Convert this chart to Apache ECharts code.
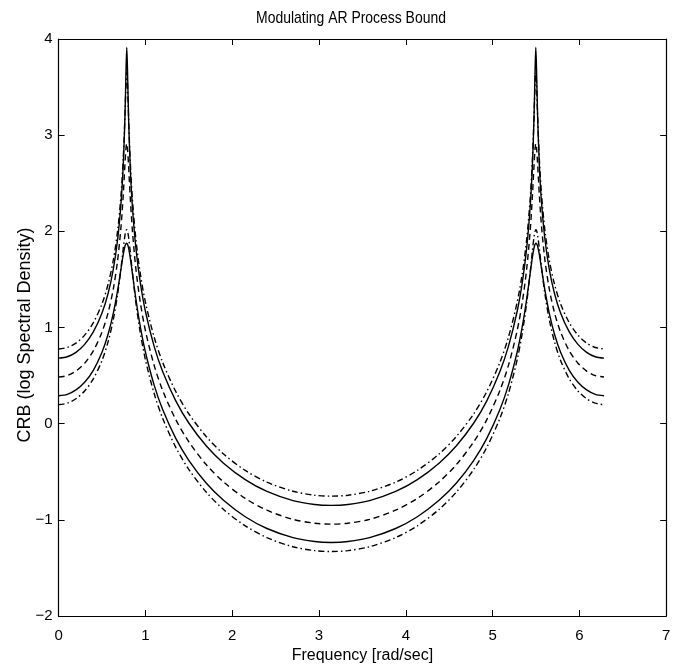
<!DOCTYPE html>
<html>
<head>
<meta charset="utf-8">
<script src="https://cdn.jsdelivr.net/npm/echarts@6/dist/echarts.min.js"></script>
<style>html,body{margin:0;padding:0;background:#fff}#c{width:684px;height:669px}</style>
</head>
<body>
<div id="c"></div>
<script>
// Frequency samples (rad/sec)
const freq = [0,0.1,0.2,0.3,0.4,0.5,0.57,0.63,0.68,0.72,0.745,0.765,0.777,0.7854,0.794,0.806,0.825,0.85,0.89,0.94,1.0,1.1,1.2,1.35,1.5,1.7,1.9,2.15,2.4,2.7,2.95,3.1416,
  3.3332,3.5832,3.8832,4.1332,4.3832,4.5832,4.7832,4.9332,5.0832,5.1832,5.2832,5.3432,5.3932,5.4332,5.4582,5.4772,5.4892,5.4978,5.5062,5.5182,5.5382,5.5632,5.6032,5.6532,5.7132,5.7832,5.8832,5.9832,6.0832,6.1832,6.2832];

// Upper dash-dot bound
const upperDashDot = [0.777,0.792,0.838,0.921,1.050,1.246,1.450,1.699,2.006,2.388,2.760,3.212,3.540,3.653,3.528,3.188,2.741,2.341,1.921,1.568,1.264,0.902,0.635,0.334,0.103,-0.133,-0.315,-0.486,-0.608,-0.703,-0.744,-0.754,
  -0.744,-0.703,-0.608,-0.486,-0.315,-0.133,0.103,0.334,0.635,0.902,1.264,1.568,1.921,2.341,2.741,3.188,3.528,3.653,3.540,3.212,2.760,2.388,2.006,1.699,1.450,1.246,1.050,0.921,0.838,0.792,0.777];

// Upper solid bound
const upperSolid = [0.681,0.696,0.742,0.825,0.954,1.151,1.354,1.605,1.915,2.304,2.695,3.211,3.685,3.911,3.669,3.186,2.676,2.258,1.830,1.474,1.169,0.806,0.539,0.237,0.007,-0.230,-0.411,-0.582,-0.705,-0.800,-0.841,-0.850,
  -0.841,-0.800,-0.705,-0.582,-0.411,-0.230,0.007,0.237,0.539,0.806,1.169,1.474,1.830,2.258,2.676,3.186,3.669,3.911,3.685,3.211,2.695,2.304,1.915,1.605,1.354,1.151,0.954,0.825,0.742,0.696,0.681];

// Log spectral density (dashed)
const spectrum = [0.486,0.500,0.547,0.629,0.757,0.953,1.154,1.400,1.699,2.059,2.382,2.706,2.872,2.914,2.863,2.684,2.360,2.011,1.614,1.270,0.969,0.609,0.343,0.042,-0.188,-0.425,-0.606,-0.777,-0.900,-0.995,-1.035,-1.045,
  -1.035,-0.995,-0.900,-0.777,-0.606,-0.425,-0.188,0.042,0.343,0.609,0.969,1.270,1.614,2.011,2.360,2.684,2.863,2.914,2.872,2.706,2.382,2.059,1.699,1.400,1.154,0.953,0.757,0.629,0.547,0.500,0.486];

// Lower solid bound
const lowerSolid = [0.291,0.305,0.351,0.431,0.555,0.743,0.930,1.147,1.385,1.616,1.760,1.847,1.873,1.876,1.865,1.828,1.730,1.565,1.299,1.016,0.745,0.403,0.144,-0.153,-0.381,-0.617,-0.797,-0.968,-1.090,-1.185,-1.226,-1.235,
  -1.226,-1.185,-1.090,-0.968,-0.797,-0.617,-0.381,-0.153,0.144,0.403,0.745,1.016,1.299,1.565,1.730,1.828,1.865,1.876,1.873,1.847,1.760,1.616,1.385,1.147,0.930,0.743,0.555,0.431,0.351,0.305,0.291];

// Lower dash-dot bound
const lowerDashDot = [0.198,0.213,0.259,0.340,0.466,0.657,0.851,1.082,1.346,1.626,1.824,1.961,2.008,2.016,2.000,1.942,1.796,1.576,1.261,0.951,0.666,0.316,0.053,-0.246,-0.475,-0.711,-0.892,-1.062,-1.185,-1.280,-1.320,-1.330,
  -1.320,-1.280,-1.185,-1.062,-0.892,-0.711,-0.475,-0.246,0.053,0.316,0.666,0.951,1.261,1.576,1.796,1.942,2.000,2.016,2.008,1.961,1.824,1.626,1.346,1.082,0.851,0.657,0.466,0.340,0.259,0.213,0.198];

const titleText = 'Modulating AR Process Bound';
const xName = 'Frequency [rad/sec]';
const yName = 'CRB (log Spectral Density)';

const FONT = "'Liberation Sans', Arial, Helvetica, sans-serif";
const pair = ys => freq.map((x, i) => [x, ys[i]]);
const DASH = [6, 4];
const DASHDOT = [6, 3, 1.5, 3];
const minus = v => String(v).replace('-', '\u2212');

const axisCommon = {
  type: 'value',
  axisLine: { show: true, onZero: false, lineStyle: { color: '#000', width: 1.2 } },
  axisTick: { show: true, inside: true, length: 6, lineStyle: { color: '#000', width: 1 } },
  splitLine: { show: false }
};

const chart = echarts.init(document.getElementById('c'), null, { renderer: 'canvas' });
chart.setOption({
  animation: false,
  backgroundColor: '#fff',
  graphic: [
    {
      type: 'text', x: 351, y: 18, scaleX: 0.82, silent: true,
      style: { text: titleText, fill: '#000', font: "17px " + FONT, textAlign: 'center', textVerticalAlign: 'middle' }
    },
    {
      type: 'text', x: 25, y: 335, rotation: Math.PI / 2, silent: true,
      style: { text: yName, fill: '#000', font: "18px " + FONT, textAlign: 'center', textVerticalAlign: 'middle' }
    }
  ],
  grid: { left: 58.6, right: 17.8, top: 39, bottom: 53 },
  xAxis: [
    Object.assign({}, axisCommon, {
      min: 0, max: 7, interval: 1, position: 'bottom',
      axisLabel: { color: '#000', fontSize: 15, fontFamily: FONT, margin: 12 },
      name: xName, nameLocation: 'middle', nameGap: 31,
      nameTextStyle: { color: '#000', fontSize: 16, fontFamily: FONT }
    }),
    Object.assign({}, axisCommon, {
      min: 0, max: 7, interval: 1, position: 'top', axisLabel: { show: false }
    })
  ],
  yAxis: [
    Object.assign({}, axisCommon, {
      min: -2, max: 4, interval: 1, position: 'left',
      axisLabel: { color: '#000', fontSize: 15, fontFamily: FONT, margin: 6, formatter: minus }
    }),
    Object.assign({}, axisCommon, {
      min: -2, max: 4, interval: 1, position: 'right', axisLabel: { show: false }
    })
  ],
  series: [
    { name: 'upperDashDot', data: pair(upperDashDot), lineStyle: { type: DASHDOT } },
    { name: 'upperSolid', data: pair(upperSolid), lineStyle: { type: 'solid' } },
    { name: 'spectrum', data: pair(spectrum), lineStyle: { type: DASH } },
    { name: 'lowerSolid', data: pair(lowerSolid), lineStyle: { type: 'solid' } },
    { name: 'lowerDashDot', data: pair(lowerDashDot), lineStyle: { type: DASHDOT } }
  ].map(s => Object.assign({
    type: 'line', xAxisIndex: 0, yAxisIndex: 0, showSymbol: false, symbol: 'none',
    smooth: 0.3, silent: true
  }, s, { lineStyle: Object.assign({ color: '#000', width: 1.4 }, s.lineStyle) }))
});
</script>
</body>
</html>
